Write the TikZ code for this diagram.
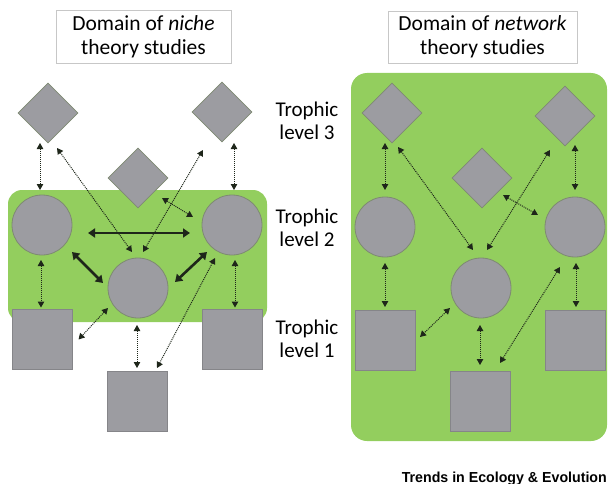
\documentclass[tikz,border=0pt]{standalone}
\usepackage{fontspec}
\setmainfont{Carlito}
\newfontfamily\footfont{Liberation Sans}
\usetikzlibrary{shapes.geometric,arrows.meta}
\definecolor{grn}{HTML}{93CE5E}
\definecolor{gfill}{HTML}{9C9CA1}
\definecolor{gedge}{HTML}{7E8A72}
\definecolor{arr}{HTML}{1E261A}
\tikzset{
  greenbox/.style={fill=grn,draw=none,rounded corners=14pt},
  dia/.style={diamond,fill=gfill,draw=gedge,line width=0.8pt,minimum width=60pt,minimum height=60pt,inner sep=0pt},
  circ/.style={circle,fill=gfill,draw=gedge,line width=0.8pt,minimum size=60pt,inner sep=0pt},
  sq/.style={rectangle,fill=gfill,draw=gfill!85!black,line width=0.5pt,minimum size=60pt,inner sep=0pt},
  dotarr/.style={draw=arr,densely dotted,line width=1pt,{Triangle[length=6pt,width=6.5pt]}-{Triangle[length=6pt,width=6.5pt]}},
  thickarr/.style={draw=arr,line width=2.6pt,{Triangle[length=7pt,width=9pt]}-{Triangle[length=7pt,width=9pt]}},
  titlebox/.style={draw=black!22,line width=0.8pt,align=center,font=\fontsize{21.5}{24}\selectfont,inner sep=0pt},
  lvl/.style={align=center,font=\fontsize{21}{23.5}\selectfont}
}
\begin{document}
\begin{tikzpicture}[x=1pt,y=-1pt]
\useasboundingbox (0,0) rectangle (610,484);
% green backgrounds
\fill[greenbox] (8,190) rectangle (267,322);
\fill[greenbox,rounded corners=16pt] (351,73) rectangle (607,441);
% titles
\node[titlebox,minimum width=175pt,minimum height=53pt] (t1) at (143.5,36.5) {Domain of \textit{niche}\\theory studies};
\node[titlebox,minimum width=189pt,minimum height=52pt] (t2) at (482.5,37) {Domain of \textit{network}\\theory studies};
% level labels
\node[lvl] (l3) at (307,121) {Trophic\\level 3};
\node[lvl] (l2) at (307,228) {Trophic\\level 2};
\node[lvl] (l1) at (307,339) {Trophic\\level 1};
% left panel nodes
\node[dia] (adTL) at (48,113) {};
\node[dia] (adTR) at (222,112) {};
\node[dia] (adM) at (138,178) {};
\node[circ] (acL) at (42,225) {};
\node[circ] (acR) at (232,225) {};
\node[circ] (acM) at (138,288) {};
\node[sq] (asL) at (42.5,339.5) {};
\node[sq] (asR) at (232,339.5) {};
\node[sq] (asB) at (137.5,401) {};
% right panel nodes
\node[dia] (bdTL) at (392,113) {};
\node[dia] (bdTR) at (565,116) {};
\node[dia] (bdM) at (482,178) {};
\node[circ] (bcL) at (385,227) {};
\node[circ] (bcR) at (575,227) {};
\node[circ] (bcM) at (481,288) {};
\node[sq] (bsL) at (385,340) {};
\node[sq] (bsR) at (575,340) {};
\node[sq] (bsB) at (480,401) {};
% left panel connectors
\draw[dotarr] ([shift={(-8,30)}]adTL.center) -- ([shift={(-2,-35)}]acL.center);
\draw[dotarr] ([shift={(12,31)}]adTR.center) -- ([shift={(2,-35)}]acR.center);
\draw[dotarr] ([shift={(9,35)}]adTL.center) -- ([shift={(-6,-36)}]acM.center);
\draw[dotarr] ([shift={(-19,38)}]adTR.center) -- ([shift={(5,-36)}]acM.center);
\draw[dotarr] ([shift={(24,20)}]adM.center) -- ([shift={(-39,-8)}]acR.center);
\draw[thickarr] ([shift={(46,8)}]acL.center) -- ([shift={(-42,8)}]acR.center);
\draw[thickarr] ([shift={(30,27)}]acL.center) -- ([shift={(-35,-5)}]acM.center);
\draw[thickarr] ([shift={(-25,27)}]acR.center) -- ([shift={(37,-6)}]acM.center);
\draw[dotarr] ([shift={(-1,35)}]acL.center) -- ([shift={(-1.5,-32)}]asL.center);
\draw[dotarr] ([shift={(3,35)}]acR.center) -- ([shift={(3,-32)}]asR.center);
\draw[dotarr] ([shift={(-30,20)}]acM.center) -- ([shift={(36,0)}]asL.center);
\draw[dotarr] ([shift={(-1,37)}]acM.center) -- ([shift={(-0.5,-33)}]asB.center);
\draw[dotarr] ([shift={(-17,33)}]acR.center) -- ([shift={(19.5,-33)}]asB.center);
% right panel connectors
\draw[dotarr] ([shift={(-7,30)}]bdTL.center) -- ([shift={(0,-37)}]bcL.center);
\draw[dotarr] ([shift={(6,34)}]bdTL.center) -- ([shift={(-8,-38)}]bcM.center);
\draw[dotarr] ([shift={(-15,34)}]bdTR.center) -- ([shift={(6,-38)}]bcM.center);
\draw[dotarr] ([shift={(10,29)}]bdTR.center) -- ([shift={(0,-37)}]bcR.center);
\draw[dotarr] ([shift={(21,17)}]bdM.center) -- ([shift={(-37,-12)}]bcR.center);
\draw[dotarr] ([shift={(0,36)}]bcL.center) -- ([shift={(0,-33)}]bsL.center);
\draw[dotarr] ([shift={(1,36)}]bcR.center) -- ([shift={(1,-33)}]bsR.center);
\draw[dotarr] ([shift={(-31,20)}]bcM.center) -- ([shift={(35,-3)}]bsL.center);
\draw[dotarr] ([shift={(-1,37)}]bcM.center) -- ([shift={(0,-36)}]bsB.center);
\draw[dotarr] ([shift={(-15,40)}]bcR.center) -- ([shift={(20,-38)}]bsB.center);
% footer
\node[anchor=base east,inner sep=0pt] (foot) at (607,482) {\resizebox{205pt}{10.5pt}{\footfont\bfseries Trends in Ecology \& Evolution}};
\end{tikzpicture}
\end{document}
